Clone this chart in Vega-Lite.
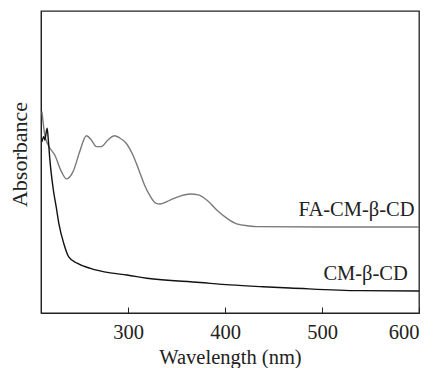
{
  "$schema": "https://vega.github.io/schema/vega-lite/v6.json",
  "width": 378,
  "height": 302,
  "autosize": "none",
  "padding": {"left": 41, "top": 11, "right": 17, "bottom": 55},
  "background": "white",
  "config": {
    "font": "Liberation Serif",
    "view": {"stroke": "#222", "strokeWidth": 1.3},
    "axis": {"labelFont": "Liberation Serif", "titleFont": "Liberation Serif"},
    "text": {"font": "Liberation Serif"}
  },
  "datasets": {
    "fa": [
      {"w": 211.0, "a": 0.667},
      {"w": 213.9, "a": 0.589},
      {"w": 217.4, "a": 0.556},
      {"w": 224.2, "a": 0.523},
      {"w": 231.1, "a": 0.468},
      {"w": 236.2, "a": 0.444},
      {"w": 243.1, "a": 0.468},
      {"w": 249.9, "a": 0.534},
      {"w": 256.8, "a": 0.587},
      {"w": 261.9, "a": 0.573},
      {"w": 267.1, "a": 0.551},
      {"w": 272.2, "a": 0.551},
      {"w": 279.1, "a": 0.573},
      {"w": 285.9, "a": 0.587},
      {"w": 291.0, "a": 0.580},
      {"w": 297.9, "a": 0.562},
      {"w": 304.8, "a": 0.523},
      {"w": 311.6, "a": 0.468},
      {"w": 316.8, "a": 0.424},
      {"w": 321.9, "a": 0.391},
      {"w": 328.8, "a": 0.363},
      {"w": 332.9, "a": 0.361},
      {"w": 343.2, "a": 0.374},
      {"w": 353.5, "a": 0.387},
      {"w": 363.8, "a": 0.394},
      {"w": 372.3, "a": 0.391},
      {"w": 381.0, "a": 0.374},
      {"w": 391.3, "a": 0.341},
      {"w": 401.6, "a": 0.314},
      {"w": 411.9, "a": 0.295},
      {"w": 425.6, "a": 0.288},
      {"w": 432.4, "a": 0.286},
      {"w": 500.0, "a": 0.285},
      {"w": 600.0, "a": 0.285}
    ],
    "cm": [
      {"w": 211.0, "a": 0.567},
      {"w": 212.8, "a": 0.584},
      {"w": 213.9, "a": 0.573},
      {"w": 216.3, "a": 0.612},
      {"w": 217.7, "a": 0.567},
      {"w": 219.0, "a": 0.513},
      {"w": 222.5, "a": 0.413},
      {"w": 225.9, "a": 0.347},
      {"w": 228.5, "a": 0.295},
      {"w": 233.4, "a": 0.231},
      {"w": 238.6, "a": 0.186},
      {"w": 247.2, "a": 0.165},
      {"w": 260.9, "a": 0.148},
      {"w": 281.5, "a": 0.133},
      {"w": 298.7, "a": 0.126},
      {"w": 319.2, "a": 0.115},
      {"w": 374.1, "a": 0.101},
      {"w": 405.0, "a": 0.093},
      {"w": 438.9, "a": 0.087},
      {"w": 466.7, "a": 0.083},
      {"w": 538.8, "a": 0.074},
      {"w": 600.0, "a": 0.073}
    ],
    "labels": [
      {"w": 595.4, "a": 0.321, "label": "FA-CM-β-CD"},
      {"w": 588.5, "a": 0.109, "label": "CM-β-CD"}
    ]
  },
  "encoding": {
    "x": {
      "field": "w", "type": "quantitative",
      "scale": {"domain": [210, 600], "nice": false, "zero": false},
      "axis": {
        "title": "Wavelength (nm)",
        "values": [300, 400, 500, 600],
        "grid": false,
        "tickSize": -6,
        "tickColor": "#222",
        "domainColor": "#222",
        "labelFontSize": 20.5,
        "labelColor": "#222",
        "labelPadding": 15,
        "titleFontSize": 20.5,
        "titleFontWeight": "normal",
        "titleColor": "#222",
        "titlePadding": 5
      }
    },
    "y": {
      "field": "a", "type": "quantitative",
      "scale": {"domain": [0, 1], "nice": false},
      "axis": {
        "title": "Absorbance",
        "ticks": false,
        "labels": false,
        "grid": false,
        "domainColor": "#222",
        "titleFontSize": 22,
        "titleFontWeight": "normal",
        "titleColor": "#222",
        "titlePadding": 10,
        "titleY": 143
      }
    }
  },
  "layer": [
    {
      "data": {"name": "fa"},
      "mark": {"type": "line", "color": "#7a7a7a", "strokeWidth": 1.4, "interpolate": "monotone"}
    },
    {
      "data": {"name": "cm"},
      "mark": {"type": "line", "color": "#111", "strokeWidth": 1.4, "interpolate": "monotone"}
    },
    {
      "data": {"name": "labels"},
      "mark": {"type": "text", "align": "right", "baseline": "alphabetic", "fontSize": 20.5, "color": "#222", "font": "Liberation Serif"},
      "encoding": {"text": {"field": "label"}}
    }
  ]
}
